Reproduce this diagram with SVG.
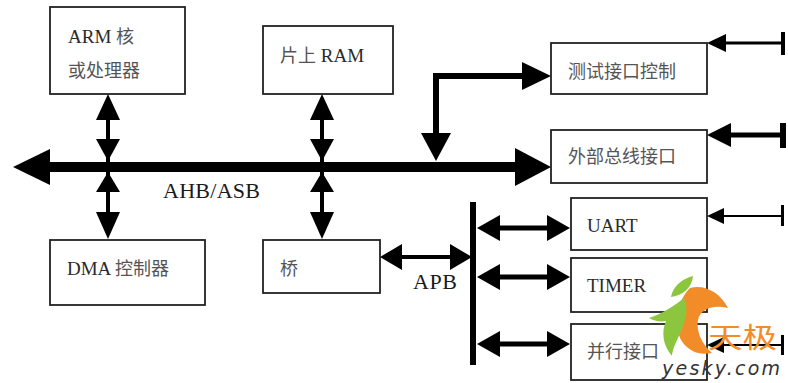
<svg xmlns="http://www.w3.org/2000/svg" width="788" height="383" viewBox="0 0 788 383">
<style>
.box{fill:#fff;stroke:#222;stroke-width:1.8}
.lbl{font-family:"Liberation Serif","Noto Sans CJK SC",serif;font-size:19px;fill:#2a2a2a}
.cjk{font-family:"Noto Sans CJK SC","Liberation Serif",sans-serif;font-size:18px;fill:#555}
.bus{font-family:"Liberation Serif",serif;font-size:22px;fill:#1a1a1a}
.ln{stroke:#000;fill:none}
.hd{fill:#000}
</style>
<rect width="788" height="383" fill="#fff"/>
<g id="connectors">
  <!-- AHB/ASB main bus -->
  <line class="ln" x1="48" y1="167" x2="517" y2="167" stroke-width="10"/>
  <polygon class="hd" points="13,167 50,149 50,185"/>
  <polygon class="hd" points="551,167 515,148 515,186"/>
  <!-- ARM / DMA vertical -->
  <line class="ln" x1="108" y1="100" x2="108" y2="232" stroke-width="4"/>
  <polygon class="hd" points="108,94 96,120 120,120"/>
  <polygon class="hd" points="108,161 96,139 120,139"/>
  <polygon class="hd" points="108,172 96,192 120,192"/>
  <polygon class="hd" points="108,239 96,212 120,212"/>
  <!-- RAM / bridge vertical -->
  <line class="ln" x1="322" y1="100" x2="322" y2="232" stroke-width="4"/>
  <polygon class="hd" points="322,94 310,120 334,120"/>
  <polygon class="hd" points="322,161 310,139 334,139"/>
  <polygon class="hd" points="322,172 310,192 334,192"/>
  <polygon class="hd" points="322,239 310,212 334,212"/>
  <!-- bus to test interface -->
  <polyline class="ln" points="436,135 436,76 524,76" stroke-width="6"/>
  <polygon class="hd" points="436,161 421,133 451,133"/>
  <polygon class="hd" points="551,76 522,62 522,90"/>
  <!-- bridge to APB -->
  <line class="ln" x1="395" y1="257" x2="460" y2="257" stroke-width="4"/>
  <polygon class="hd" points="380,257 402,244 402,270"/>
  <polygon class="hd" points="472,257 450,244 450,270"/>
  <!-- APB bar -->
  <rect x="470" y="202" width="6" height="163" fill="#000"/>
  <!-- APB to peripherals -->
  <line class="ln" x1="495" y1="228" x2="552" y2="228" stroke-width="5"/>
  <polygon class="hd" points="477,228 500,215 500,241"/>
  <polygon class="hd" points="570,228 547,215 547,241"/>
  <line class="ln" x1="495" y1="277" x2="552" y2="277" stroke-width="5"/>
  <polygon class="hd" points="477,277 500,264 500,290"/>
  <polygon class="hd" points="570,277 547,264 547,290"/>
  <line class="ln" x1="495" y1="344" x2="552" y2="344" stroke-width="5"/>
  <polygon class="hd" points="477,344 500,331 500,357"/>
  <polygon class="hd" points="570,344 547,331 547,357"/>
  <!-- external inputs -->
  <line class="ln" x1="722" y1="43" x2="783" y2="43" stroke-width="3"/>
  <polygon class="hd" points="707,43 726,34 726,52"/>
  <rect x="781" y="32" width="4" height="23" fill="#000"/>
  <line class="ln" x1="726" y1="135" x2="783" y2="135" stroke-width="5"/>
  <polygon class="hd" points="707,135 731,123 731,147"/>
  <rect x="780" y="123" width="6" height="25" fill="#000"/>
  <line class="ln" x1="720" y1="216" x2="783" y2="216" stroke-width="2"/>
  <polygon class="hd" points="707,216 724,208 724,224"/>
  <rect x="781" y="205" width="3" height="21" fill="#000"/>
  <line class="ln" x1="720" y1="345" x2="783" y2="345" stroke-width="2"/>
  <polygon class="hd" points="707,345 724,337 724,353"/>
  <rect x="781" y="335" width="3" height="20" fill="#000"/>
</g>
<g id="arm">
  <rect class="box" x="50" y="7" width="135" height="87"/>
  <text class="lbl" x="68" y="43">ARM <tspan class="cjk">核</tspan></text>
  <text class="cjk" x="68" y="77">或处理器</text>
</g>
<g id="ram">
  <rect class="box" x="263" y="26" width="130" height="68"/>
  <text class="lbl" x="280" y="62"><tspan class="cjk">片上</tspan> RAM</text>
</g>
<g id="dma">
  <rect class="box" x="50" y="240" width="155" height="65"/>
  <text class="lbl" x="67" y="275">DMA <tspan class="cjk">控制器</tspan></text>
</g>
<g id="bridge">
  <rect class="box" x="263" y="240" width="117" height="53"/>
  <text class="cjk" x="280" y="275">桥</text>
</g>
<g id="test">
  <rect class="box" x="551" y="43" width="156" height="51"/>
  <text class="cjk" x="568" y="78">测试接口控制</text>
</g>
<g id="extbus">
  <rect class="box" x="551" y="130" width="156" height="53"/>
  <text class="cjk" x="568" y="163">外部总线接口</text>
</g>
<g id="uart">
  <rect class="box" x="571" y="198" width="136" height="52"/>
  <text class="lbl" x="587" y="232">UART</text>
</g>
<g id="timer">
  <rect class="box" x="571" y="258" width="136" height="54"/>
  <text class="lbl" x="587" y="292">TIMER</text>
</g>
<g id="parallel">
  <rect class="box" x="571" y="324" width="136" height="56"/>
  <text class="cjk" x="587" y="358">并行接口</text>
</g>
<g id="labels">
  <text class="bus" x="163" y="198" textLength="97">AHB/ASB</text>
  <text class="bus" x="413" y="289" textLength="44">APB</text>
</g>
<g id="watermark">
  <path d="M728,308 C720,292 704,284 690,288 C678,300 674,320 680,338 C686,350 698,356 712,353 C702,344 696,332 698,320 C700,310 712,304 728,308 Z" fill="#f28c28"/>
  <path d="M671,297 C673,286 682,279 693,276 C692,287 684,295 671,297 Z" fill="#8cc63f"/>
  <path d="M649,318 C662,314 674,306 684,298 C690,310 684,326 678,338 C674,346 672,352 672,356 C663,346 661,332 666,321 C660,322 654,321 649,318 Z" fill="#8cc63f"/>
  <text x="708" y="348" font-family="Noto Sans CJK SC,sans-serif" font-size="28" textLength="69" lengthAdjust="spacingAndGlyphs" fill="#f28c28">天极</text>
  <text x="662" y="375" font-family="DejaVu Sans,sans-serif" font-style="italic" font-size="19" textLength="118" fill="#333">yesky.com</text>
</g>
</svg>
